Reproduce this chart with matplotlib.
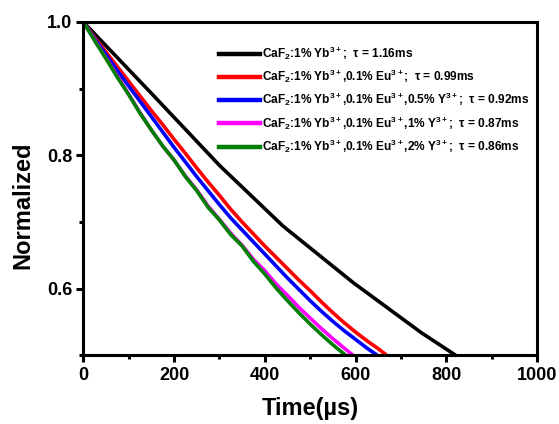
import matplotlib
matplotlib.use('Agg')
import matplotlib.pyplot as plt
from matplotlib.ticker import MultipleLocator

plt.rcParams['font.family'] = ['Liberation Sans', 'DejaVu Sans']
plt.rcParams['font.weight'] = 'bold'
plt.rcParams['mathtext.fontset'] = 'custom'
plt.rcParams['mathtext.rm'] = 'Liberation Sans:bold'
plt.rcParams['mathtext.bf'] = 'Liberation Sans:bold'
plt.rcParams['mathtext.it'] = 'Liberation Sans:bold'

# decay curves (time in us, normalized intensity)
black_t = [0, 150, 300, 440, 595, 745, 830]
black_y = [1.000, 0.893, 0.785, 0.694, 0.609, 0.534, 0.496]

red_t = [0, 25, 50, 75, 100, 125, 150, 175, 200, 225, 250, 275, 300, 325,
         350, 375, 400, 425, 450, 475, 500, 525, 550, 575, 600, 625, 650, 675]
red_y = [1.000, 0.977, 0.955, 0.933, 0.911, 0.889, 0.867, 0.846, 0.824, 0.803,
         0.781, 0.760, 0.740, 0.719, 0.700, 0.682, 0.664, 0.647, 0.630, 0.613,
         0.597, 0.580, 0.564, 0.549, 0.535, 0.522, 0.510, 0.497]

blue_t = [0, 25, 50, 75, 100, 125, 150, 175, 200, 225, 250, 275, 300, 325,
          350, 375, 400, 425, 450, 475, 500, 525, 550, 575, 600, 625, 655]
blue_y = [1.000, 0.975, 0.951, 0.927, 0.904, 0.881, 0.858, 0.835, 0.812, 0.790,
          0.768, 0.747, 0.726, 0.706, 0.688, 0.670, 0.652, 0.634, 0.616, 0.599,
          0.582, 0.566, 0.551, 0.537, 0.524, 0.511, 0.497]

mag_t = [0, 25, 50, 75, 100, 125, 150, 175, 200, 225, 250, 275, 300, 325,
         350, 375, 400, 425, 450, 475, 500, 525, 550, 575, 600]
mag_y = [1.000, 0.973, 0.946, 0.919, 0.892, 0.864, 0.838, 0.814, 0.793, 0.769,
         0.748, 0.724, 0.704, 0.683, 0.665, 0.644, 0.627, 0.607, 0.590, 0.572,
         0.556, 0.540, 0.525, 0.511, 0.497]

green_t = [0, 25, 50, 75, 100, 125, 150, 175, 200, 225, 250, 275, 300, 325,
           350, 375, 400, 425, 450, 475, 500, 525, 550, 575, 585]
green_y = [1.000, 0.972, 0.945, 0.917, 0.891, 0.863, 0.838, 0.814, 0.793, 0.768,
           0.747, 0.722, 0.703, 0.681, 0.664, 0.641, 0.622, 0.601, 0.582, 0.564,
           0.547, 0.531, 0.516, 0.502, 0.497]

labels = [
    r'CaF$_2$:1% Yb$^{3+}$;  τ = 1.16ms',
    r'CaF$_2$:1% Yb$^{3+}$,0.1% Eu$^{3+}$;  τ = 0.99ms',
    r'CaF$_2$:1% Yb$^{3+}$,0.1% Eu$^{3+}$,0.5% Y$^{3+}$;  τ = 0.92ms',
    r'CaF$_2$:1% Yb$^{3+}$,0.1% Eu$^{3+}$,1% Y$^{3+}$;  τ = 0.87ms',
    r'CaF$_2$:1% Yb$^{3+}$,0.1% Eu$^{3+}$,2% Y$^{3+}$;  τ = 0.86ms',
]

fig = plt.figure(figsize=(5.59, 4.24), dpi=100)
ax = fig.add_axes([0.149, 0.1616, 0.812, 0.7866])

lw = 2.6
ax.plot(black_t, black_y, color='black', lw=lw, label=labels[0])
ax.plot(red_t, red_y, color='#ff0000', lw=lw, label=labels[1])
ax.plot(blue_t, blue_y, color='#0000ff', lw=lw, label=labels[2])
ax.plot(mag_t, mag_y, color='#ff00ff', lw=lw, label=labels[3])
ax.plot(green_t, green_y, color='#008000', lw=lw, label=labels[4])

ax.set_xlim(0, 1000)
ax.set_ylim(0.5, 1.0)
ax.xaxis.set_major_locator(MultipleLocator(200))
ax.xaxis.set_minor_locator(MultipleLocator(100))
ax.yaxis.set_minor_locator(MultipleLocator(0.1))
ax.set_yticks([0.6, 0.8, 1.0])

for s in ax.spines.values():
    s.set_linewidth(2.2)
ax.tick_params(which='major', direction='out', length=5, width=2.2,
               labelsize=13, pad=3)
ax.tick_params(which='minor', direction='out', length=3, width=2.2)
for lab in ax.get_xticklabels() + ax.get_yticklabels():
    lab.set_fontweight('bold')

ax.set_xlabel('Time(µs)', fontsize=17, fontweight='bold')
ax.set_ylabel('Normalized', fontsize=17, fontweight='bold')
ax.xaxis.set_label_coords(0.5, -0.124)
ax.xaxis.label.set_va('top')
ax.yaxis.set_label_coords(-0.133, 0.451)
ax.yaxis.label.set_va('center')

leg = ax.legend(loc='upper left', bbox_to_anchor=(0.30, 0.932), frameon=False,
                fontsize=8.6, handlelength=3.4, handletextpad=0.2,
                labelspacing=0.5, borderpad=0, borderaxespad=0)
for line in leg.get_lines():
    line.set_linewidth(3.2)

fig.savefig('out.png', dpi=100)
